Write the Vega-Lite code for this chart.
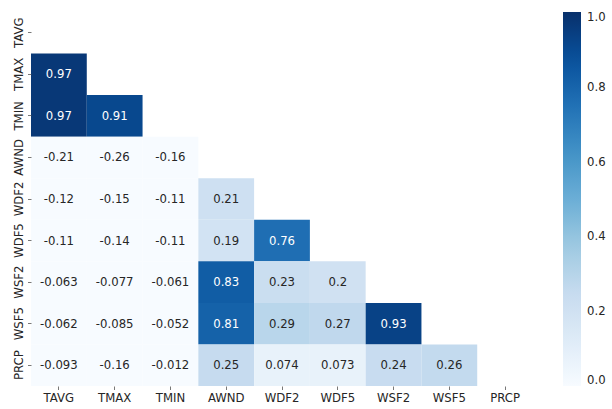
{
  "$schema": "https://vega.github.io/schema/vega-lite/v6.json",
  "width": 502,
  "height": 374,
  "padding": {"left": 5, "top": 12, "right": 5, "bottom": 5},
  "background": "white",
  "config": {
    "view": {"stroke": null},
    "font": "DejaVu Sans",
    "locale": {"number": {"decimal": ".", "thousands": ",", "grouping": [3], "currency": ["$", ""], "minus": "-"}}
  },
  "data": {
    "values": [
      {"row": "TMAX", "col": "TAVG", "r": 0.97},
      {"row": "TMIN", "col": "TAVG", "r": 0.97},
      {"row": "TMIN", "col": "TMAX", "r": 0.91},
      {"row": "AWND", "col": "TAVG", "r": -0.21},
      {"row": "AWND", "col": "TMAX", "r": -0.26},
      {"row": "AWND", "col": "TMIN", "r": -0.16},
      {"row": "WDF2", "col": "TAVG", "r": -0.12},
      {"row": "WDF2", "col": "TMAX", "r": -0.15},
      {"row": "WDF2", "col": "TMIN", "r": -0.11},
      {"row": "WDF2", "col": "AWND", "r": 0.21},
      {"row": "WDF5", "col": "TAVG", "r": -0.11},
      {"row": "WDF5", "col": "TMAX", "r": -0.14},
      {"row": "WDF5", "col": "TMIN", "r": -0.11},
      {"row": "WDF5", "col": "AWND", "r": 0.19},
      {"row": "WDF5", "col": "WDF2", "r": 0.76},
      {"row": "WSF2", "col": "TAVG", "r": -0.063},
      {"row": "WSF2", "col": "TMAX", "r": -0.077},
      {"row": "WSF2", "col": "TMIN", "r": -0.061},
      {"row": "WSF2", "col": "AWND", "r": 0.83},
      {"row": "WSF2", "col": "WDF2", "r": 0.23},
      {"row": "WSF2", "col": "WDF5", "r": 0.2},
      {"row": "WSF5", "col": "TAVG", "r": -0.062},
      {"row": "WSF5", "col": "TMAX", "r": -0.085},
      {"row": "WSF5", "col": "TMIN", "r": -0.052},
      {"row": "WSF5", "col": "AWND", "r": 0.81},
      {"row": "WSF5", "col": "WDF2", "r": 0.29},
      {"row": "WSF5", "col": "WDF5", "r": 0.27},
      {"row": "WSF5", "col": "WSF2", "r": 0.93},
      {"row": "PRCP", "col": "TAVG", "r": -0.093},
      {"row": "PRCP", "col": "TMAX", "r": -0.16},
      {"row": "PRCP", "col": "TMIN", "r": -0.012},
      {"row": "PRCP", "col": "AWND", "r": 0.25},
      {"row": "PRCP", "col": "WDF2", "r": 0.074},
      {"row": "PRCP", "col": "WDF5", "r": 0.073},
      {"row": "PRCP", "col": "WSF2", "r": 0.24},
      {"row": "PRCP", "col": "WSF5", "r": 0.26}
    ]
  },
  "encoding": {
    "x": {
      "field": "col", "type": "nominal",
      "scale": {"domain": ["TAVG","TMAX","TMIN","AWND","WDF2","WDF5","WSF2","WSF5","PRCP"], "paddingInner": 0, "paddingOuter": 0},
      "axis": {"title": null, "labelAngle": 0, "domain": false, "grid": false, "tickSize": 3.5, "tickColor": "#555555", "tickWidth": 0.8, "labelFontSize": 11.7, "labelColor": "#262626", "labelPadding": 3}
    },
    "y": {
      "field": "row", "type": "nominal",
      "scale": {"domain": ["TAVG","TMAX","TMIN","AWND","WDF2","WDF5","WSF2","WSF5","PRCP"], "paddingInner": 0, "paddingOuter": 0},
      "axis": {"title": null, "labelAngle": -90, "labelAlign": "center", "labelBaseline": "bottom", "domain": false, "grid": false, "tickSize": 3.5, "tickColor": "#555555", "tickWidth": 0.8, "labelFontSize": 11.7, "labelColor": "#262626", "labelPadding": 3, "minExtent": 26, "maxExtent": 26}
    }
  },
  "layer": [
    {
      "mark": {"type": "rect"},
      "encoding": {
        "color": {
          "field": "r", "type": "quantitative",
          "scale": {
            "domain": [0, 0.125, 0.25, 0.375, 0.5, 0.625, 0.75, 0.875, 1],
            "range": ["#f7fbff", "#deebf7", "#c6dbef", "#9ecae1", "#6baed6", "#4292c6", "#2171b5", "#08519c", "#08306b"],
            "clamp": true,
            "interpolate": "rgb"
          },
          "legend": {
            "title": null,
            "orient": "right",
            "offset": 30,
            "padding": 0,
            "gradientLength": 374,
            "gradientThickness": 18,
            "gradientStrokeWidth": 0,
            "values": [0, 0.2, 0.4, 0.6, 0.8, 1],
            "format": ".1f",
            "labelFontSize": 11.7,
            "labelColor": "#262626",
            "labelOffset": 6
          }
        }
      }
    },
    {
      "mark": {"type": "text", "fontSize": 11.7},
      "encoding": {
        "text": {"field": "r", "type": "quantitative", "format": ".2~g"},
        "color": {
          "condition": {"test": "datum.r > 0.5", "value": "white"},
          "value": "#262626"
        }
      }
    }
  ]
}
